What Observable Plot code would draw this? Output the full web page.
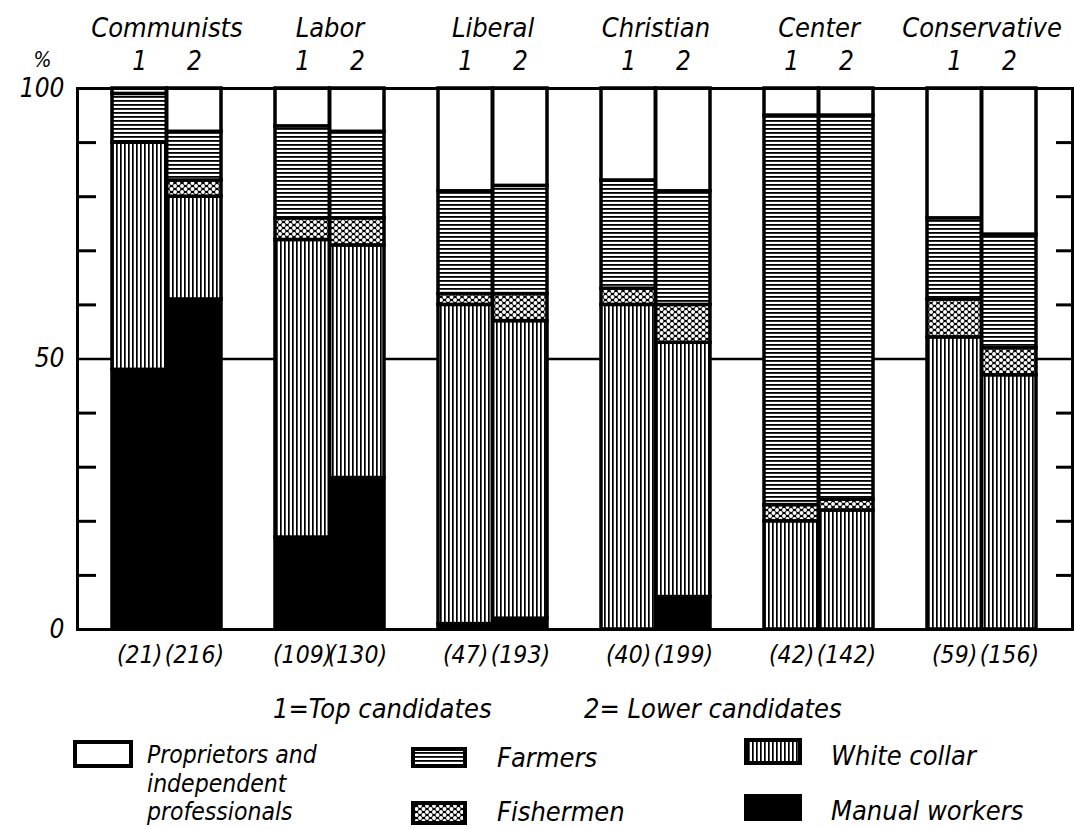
<!DOCTYPE html>
<html><head><meta charset="utf-8">
<script src="https://cdn.jsdelivr.net/npm/d3@7"></script>
<script src="https://cdn.jsdelivr.net/npm/@observablehq/plot@0.6"></script>
<style>
body{margin:0;background:#fff;}
#wrap{position:relative;width:1074px;height:829px;overflow:hidden;background:#fff;}
#defs{position:absolute;left:0;top:0;width:0;height:0;}
#chart svg{display:block;}
#legend{display:block;}
</style></head><body>
<svg id="defs" width="0" height="0">
  <defs>
    <pattern id="pat-farm" width="8" height="4" patternUnits="userSpaceOnUse">
      <rect width="8" height="4" fill="#fff"/><rect y="0" width="8" height="1.8" fill="#000"/>
    </pattern>
    <pattern id="pat-wc" width="4" height="8" patternUnits="userSpaceOnUse">
      <rect width="4" height="8" fill="#fff"/><rect x="0" width="1.7" height="8" fill="#000"/>
    </pattern>
    <pattern id="pat-fish" width="7" height="6" patternUnits="userSpaceOnUse">
      <rect width="7" height="6" fill="#000"/>
      <circle cx="0" cy="0" r="1.95" fill="#fff"/><circle cx="7" cy="0" r="1.95" fill="#fff"/>
      <circle cx="0" cy="6" r="1.95" fill="#fff"/><circle cx="7" cy="6" r="1.95" fill="#fff"/>
      <circle cx="3.5" cy="3" r="1.95" fill="#fff"/>
    </pattern>
  </defs>
</svg>
<div id="wrap"><div id="chart"></div><svg id="legend" width="1074" height="149"></svg></div>
<script>
// ---- data ----
const parties = ["Communists", "Labor", "Liberal", "Christian", "Center", "Conservative"];
const ranks = ["1", "2"];
const countsTop = [21, 109, 47, 40, 42, 59];
const countsLower = [216, 130, 193, 199, 142, 156];
const categories = ["Manual workers", "White collar", "Fishermen", "Farmers", "Proprietors and independent professionals"];
// percent shares per party: [top candidates, lower candidates]
const manualWorkers = [[48, 61], [17, 28], [1, 2], [0, 6], [0, 0], [0, 0]];
const whiteCollar   = [[42, 19], [55, 43], [59, 55], [60, 47], [20, 22], [54, 47]];
const fishermen     = [[0, 3], [4, 5], [2, 5], [3, 7], [3, 2], [7, 5]];
const farmers       = [[9, 9], [17, 16], [19, 20], [20, 21], [72, 71], [15, 21]];
const proprietors   = [[1, 8], [7, 8], [19, 18], [17, 19], [5, 5], [24, 27]];
const yTicks = [10, 20, 30, 40, 60, 70, 80, 90];
const yLabels = [0, 50, 100];
const legendNote = ["1=Top candidates", "2= Lower candidates"];
const proprietorLines = ["Proprietors and", "independent", "professionals"];

// ---- table ----
const series = [manualWorkers, whiteCollar, fishermen, farmers, proprietors];
const rows = [];
parties.forEach((p, i) => ranks.forEach((r, j) => categories.forEach((c, k) => {
  rows.push({party: p, rank: r, category: c, value: series[k][i][j]});
})));
const countRows = parties.map((p, i) => ({party: p, top: countsTop[i], lower: countsLower[i]}));

const fillFor = {
  "Manual workers": "#000",
  "White collar": "url(#pat-wc)",
  "Fishermen": "url(#pat-fish)",
  "Farmers": "url(#pat-farm)",
  "Proprietors and independent professionals": "#fff"
};

const W = 1074, H = 680, mL = 77, mR = 2, mT = 88, mB = 51;
const FONT = "'DejaVu Sans Condensed', 'DejaVu Sans', sans-serif";
const xOpts = {type: "band", domain: parties, range: [mL, W - mR], paddingInner: 0.33, paddingOuter: 0.21};
const bw = Plot.scale({x: xOpts}).bandwidth;
const half = bw / 2;
const frameW = W - mL - mR;

const txt = {fill: "#000", fontFamily: FONT, fontStyle: "italic", lineAnchor: "middle"};

const chart = Plot.plot({
  width: W, height: H,
  marginLeft: mL, marginRight: mR, marginTop: mT, marginBottom: mB,
  style: {background: "#fff", overflow: "visible"},
  x: {domain: parties, paddingInner: 0.33, paddingOuter: 0.21, axis: null},
  y: {domain: [0, 100], axis: null},
  color: {domain: categories, range: categories.map(c => fillFor[c])},
  marks: [
    Plot.ruleY([50], {stroke: "#000", strokeWidth: 2.5}),
    Plot.barY(rows.filter(d => d.rank === "1" && d.value > 0), {
      x: "party", y: "value", fill: "category", order: categories,
      insetRight: half, stroke: "#000", strokeWidth: 3.5
    }),
    Plot.barY(rows.filter(d => d.rank === "2" && d.value > 0), {
      x: "party", y: "value", fill: "category", order: categories,
      insetLeft: half, stroke: "#000", strokeWidth: 3.5
    }),
    Plot.tickY(yTicks, {y: d => d, stroke: "#000", strokeWidth: 3, insetRight: frameW - 19}),
    Plot.tickY(yTicks, {y: d => d, stroke: "#000", strokeWidth: 3, insetLeft: frameW - 16}),
    Plot.frame({stroke: "#000", strokeWidth: 3}),
    Plot.text(yLabels, {y: d => d, text: d => String(d), frameAnchor: "left", dx: -13, textAnchor: "end", fontSize: 26, ...txt}),
    Plot.text(["%"], {frameAnchor: "top-left", dx: -35, dy: -28, textAnchor: "middle", fontSize: 21, ...txt}),
    Plot.text(parties, {x: d => d, text: d => d, frameAnchor: "top", dy: -60, fontSize: 27, ...txt}),
    Plot.text(parties, {x: d => d, text: () => ranks[0], frameAnchor: "top", dy: -27, dx: -half / 2, fontSize: 26, ...txt}),
    Plot.text(parties, {x: d => d, text: () => ranks[1], frameAnchor: "top", dy: -27, dx: half / 2, fontSize: 26, ...txt}),
    Plot.text(countRows, {x: "party", text: d => `(${d.top})`, frameAnchor: "bottom", dy: 26, dx: -half / 2, fontSize: 24.5, ...txt}),
    Plot.text(countRows, {x: "party", text: d => `(${d.lower})`, frameAnchor: "bottom", dy: 26, dx: half / 2, fontSize: 24.5, ...txt})
  ]
});
document.getElementById("chart").appendChild(chart);

// ---- legend (below the plot) ----
const lg = d3.select("#legend");
const oy = H; // legend svg starts at page y = 680
const lt = (x, y, s, fs = 27) => lg.append("text").attr("x", x).attr("y", y - oy).text(s)
  .attr("font-family", FONT).attr("font-style", "italic").attr("font-size", fs).attr("fill", "#000");
lt(273, 718, legendNote[0]);
lt(584, 718, legendNote[1]);
const sw = (x, y, w, h, fill) => lg.append("rect").attr("x", x).attr("y", y - oy).attr("width", w).attr("height", h)
  .attr("fill", fill).attr("stroke", "#000").attr("stroke-width", 4);
sw(75, 742, 56, 24, fillFor[categories[4]]);
lt(147, 763, proprietorLines[0], 24.5);
lt(147, 791.5, proprietorLines[1], 24.5);
lt(147, 820, proprietorLines[2], 24.5);
sw(413, 749, 52, 17, fillFor[categories[3]]);
lt(497, 767, categories[3]);
sw(413, 803, 52, 20, fillFor[categories[2]]);
lt(497, 821, categories[2]);
sw(746, 740, 54, 23, fillFor[categories[1]]);
lt(831, 765, categories[1]);
sw(746, 796, 54, 23, fillFor[categories[0]]);
lt(831, 820, categories[0]);
</script>
</body></html>
